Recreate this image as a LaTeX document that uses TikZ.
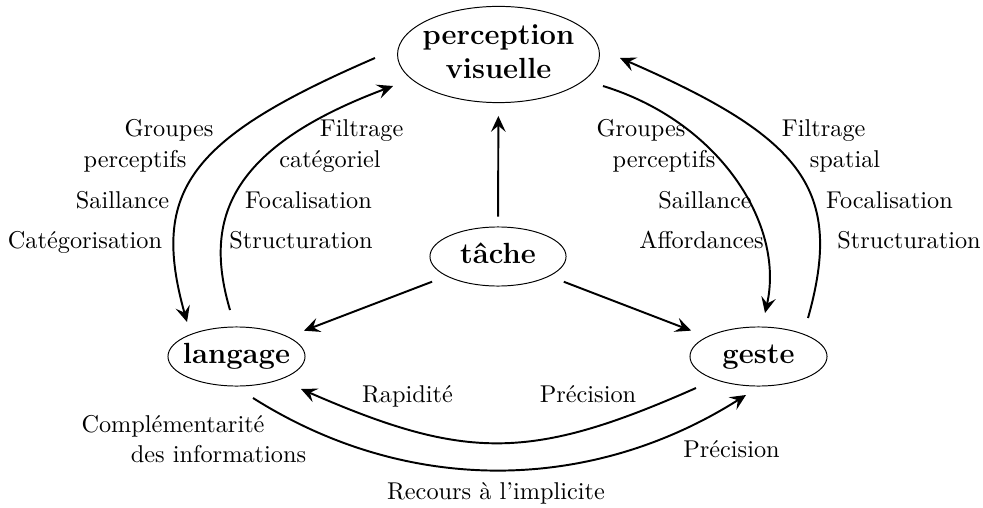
\documentclass[tikz,border=0pt]{standalone}
\usetikzlibrary{shapes.geometric,arrows.meta}
\begin{document}
\begin{tikzpicture}[x=0.4115pt,y=-0.4115pt,
  concept/.style={draw, ellipse, line width=0.4pt, inner sep=0pt, font=\large\bfseries},
  single/.style={text height=8.3pt, text depth=2.3pt},
  link/.style={line width=0.8pt, -{Stealth[length=6.5pt,width=6pt,inset=2.5pt]}},
  lbl/.style={anchor=base, inner sep=0pt}]
\useasboundingbox (0,0) rectangle (983,507);

% concept nodes
\node[concept, minimum width=83.1pt, minimum height=39.1pt] (perc) at (498.5,54.5)
  {\makebox[0pt]{\begin{tabular}{@{}c@{}}perception\\visuelle\end{tabular}}};
\node[concept, single, minimum width=56pt, minimum height=24.3pt] (tache) at (498,256.5)
  {\makebox[0pt]{tâche}};
\node[concept, single, minimum width=56.4pt, minimum height=24.3pt] (lang) at (236.5,356.5)
  {\makebox[0pt]{langage}};
\node[concept, single, minimum width=56.4pt, minimum height=24.3pt] (geste) at (758.5,356.5)
  {\makebox[0pt]{geste}};

% straight arrows from the task
\draw[link, shorten <=4.1pt, shorten >=5.3pt] (tache) -- (perc);
\draw[link, shorten <=6.3pt, shorten >=6.9pt] (tache) -- (lang);
\draw[link, shorten <=6.3pt, shorten >=6.9pt] (tache) -- (geste);

% curve end points
\coordinate (lo1) at (375,58);  \coordinate (lo2) at (187,322);
\coordinate (li1) at (230,310); \coordinate (li2) at (393,86);
\coordinate (ri1) at (603,86);  \coordinate (ri2) at (765,313);
\coordinate (ro1) at (808,318); \coordinate (ro2) at (620,58);
\coordinate (bi1) at (696,388); \coordinate (bi2) at (301,389);
\coordinate (bo1) at (253,398); \coordinate (bo2) at (746,395);

% curved arrows
\draw[link] (lo1) .. controls (190,138) and (150,190) .. (lo2);
\draw[link] (li1) .. controls (205,225) and (222,150) .. (li2);
\draw[link] (ri1) .. controls (720,122) and (785,225) .. (ri2);
\draw[link] (ro1) .. controls (844,190) and (804,138) .. (ro2);
\draw[link] (bi1) .. controls (531,461) and (466,461) .. (bi2);
\draw[link] (bo1) .. controls (408,496) and (591,493) .. (bo2);

% left labels
\node[lbl] (l1) at (169,137) {Groupes};
\node[lbl] (l2) at (135,168) {perceptifs};
\node[lbl] (l3) at (122.5,208) {Saillance};
\node[lbl] (l4) at (85,248) {Catégorisation};
\node[lbl] (l5) at (361.7,137) {Filtrage};
\node[lbl] (l6) at (330,168) {catégoriel};
\node[lbl] (l7) at (308.5,208) {Focalisation};
\node[lbl] (l8) at (301,248) {Structuration};

% right labels
\node[lbl] (r1) at (641,137) {Groupes};
\node[lbl] (r2) at (664,168) {perceptifs};
\node[lbl] (r3) at (705,208) {Saillance};
\node[lbl] (r4) at (701.5,248) {Affordances};
\node[lbl] (r5) at (823.7,137) {Filtrage};
\node[lbl] (r6) at (845,168) {spatial};
\node[lbl] (r7) at (889.5,208) {Focalisation};
\node[lbl] (r8) at (909,248) {Structuration};

% bottom labels
\node[lbl] (b1) at (407.5,402) {Rapidité};
\node[lbl] (b2) at (588,402) {Précision};
\node[lbl] (b3) at (173,432) {Complémentarité};
\node[lbl] (b4) at (218.5,462) {des informations};
\node[lbl] (b5) at (731.5,457) {Précision};
\node[lbl] (b6) at (496,499) {Recours à l'implicite};
\end{tikzpicture}
\end{document}
